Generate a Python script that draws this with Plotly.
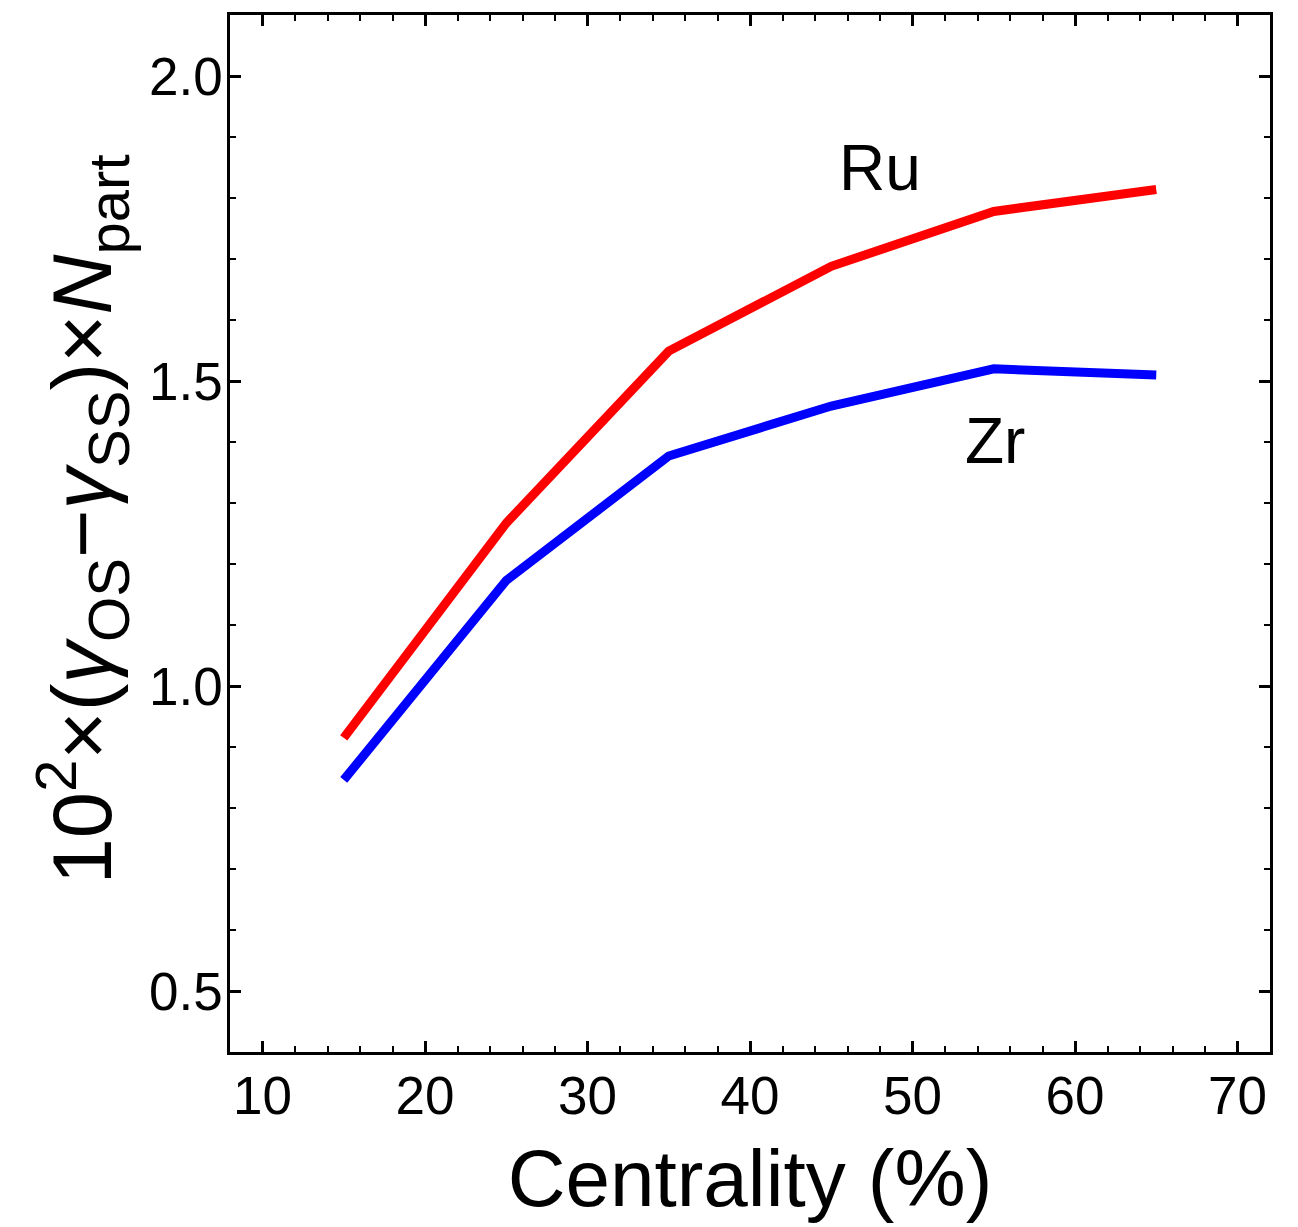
import plotly.graph_objects as go

centrality = [15, 25, 35, 45, 55, 65]
ru_values = [0.915, 1.267, 1.549, 1.688, 1.778, 1.814]
zr_values = [0.846, 1.173, 1.377, 1.459, 1.520, 1.510]

x_ticks = [10, 20, 30, 40, 50, 60, 70]
y_ticks = [0.5, 1.0, 1.5, 2.0]

FONT = "Liberation Sans, Arial, sans-serif"
Y_TITLE = "10<sup>2</sup>×(<i>γ</i><sub>OS</sub>−<i>γ</i><sub>SS</sub>)×<i>N</i><sub>part</sub>"

fig = go.Figure()
fig.add_trace(go.Scatter(x=centrality, y=ru_values, mode="lines",
                         line=dict(color="#ff0000", width=9), name="Ru"))
fig.add_trace(go.Scatter(x=centrality, y=zr_values, mode="lines",
                         line=dict(color="#0000ff", width=9), name="Zr"))

fig.add_annotation(x=48.0, y=1.85, text="Ru", showarrow=False,
                   font=dict(size=64, color="black", family=FONT))
fig.add_annotation(x=55.05, y=1.401, text="Zr", showarrow=False,
                   font=dict(size=64, color="black", family=FONT))

# y-axis title as a rotated annotation for precise placement
fig.add_annotation(xref="paper", yref="paper", x=-0.142, y=0.514,
                   text=Y_TITLE, textangle=-90, showarrow=False,
                   xanchor="center", yanchor="middle",
                   font=dict(size=83, color="black", family=FONT))

axis_common = dict(
    showline=True, linecolor="black", linewidth=2.5, mirror="allticks",
    ticks="inside", ticklen=11, tickwidth=2.5, tickcolor="black",
    showgrid=False, zeroline=False,
    tickfont=dict(size=53, color="black", family=FONT),
)

fig.update_xaxes(
    range=[8, 72], tickvals=x_ticks, ticktext=[str(v) for v in x_ticks],
    minor=dict(dtick=2, tick0=0, ticks="inside", ticklen=6, tickwidth=2, tickcolor="black"),
    title=dict(text="Centrality (%)", font=dict(size=80, color="black", family=FONT), standoff=26),
    ticklabelstandoff=-4,
    **axis_common,
)
fig.update_yaxes(
    range=[0.4, 2.1], tickvals=y_ticks, ticktext=[f"{v:.1f}" for v in y_ticks],
    minor=dict(dtick=0.1, tick0=0, ticks="inside", ticklen=6, tickwidth=2, tickcolor="black"),
    ticklabelstandoff=-6,
    **axis_common,
)

fig.update_layout(
    width=1298, height=1227,
    margin=dict(l=230, r=28, t=12, b=175),
    plot_bgcolor="white", paper_bgcolor="white",
    showlegend=False,
    font=dict(family=FONT, color="black"),
)

fig.write_html("out.html")
